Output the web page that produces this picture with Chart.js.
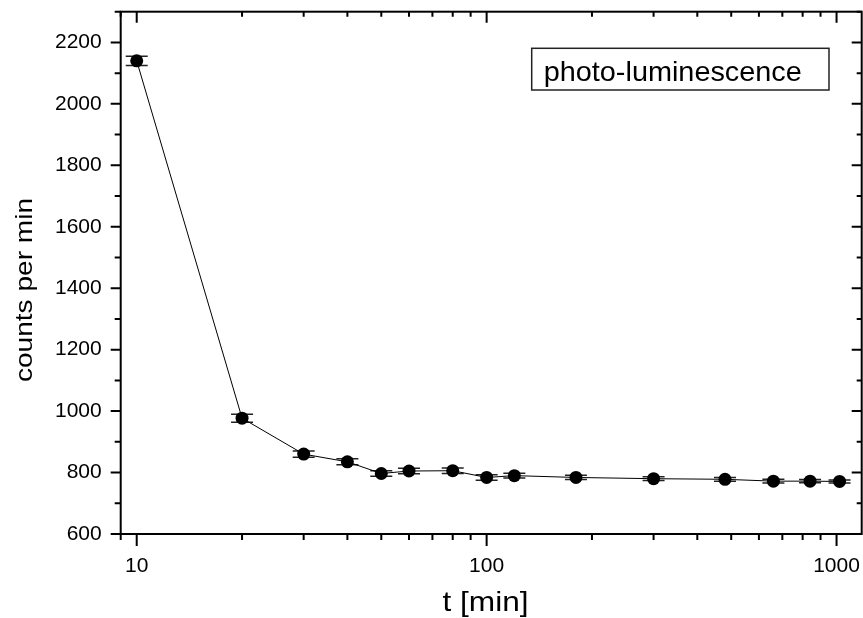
<!DOCTYPE html>
<html>
<head>
<meta charset="utf-8">
<script src="https://cdn.jsdelivr.net/npm/chart.js@4.4.0/dist/chart.umd.min.js"></script>
<style>
  html, body { margin: 0; padding: 0; background: #fff; }
  canvas { display: block; }
</style>
</head>
<body>
<canvas id="plCanvas" width="863" height="618"></canvas>
<script>
const timeMin = [10, 20, 30, 40, 50, 60, 80, 100, 120, 180, 300, 480, 660, 840, 1020];
const counts = [2140, 977, 860, 835, 797, 805, 806, 784, 790, 784, 780, 778, 772, 772, 771];
const countErr = [15, 13, 10, 10, 9, 9, 9, 9, 8, 7, 6, 6, 6, 5, 5];

// axis labelling
const xTickLabels = [10, 100, 1000];
const yTickLabels = [600, 800, 1000, 1200, 1400, 1600, 1800, 2000, 2200];
const xTitle = "t [min]";
const yTitle = "counts per min";
const boxLabel = "photo-luminescence";

const FONT = "'Liberation Sans', Arial, sans-serif";

// the figure's text is a bit wider than plain Arial, so stretch it along the line
const stretchText = (ctx, text, x, y, sx) => {
  ctx.save();
  ctx.translate(x, y);
  ctx.scale(sx, 1);
  ctx.fillText(text, 0, 0);
  ctx.restore();
};

// error bars, drawn under the markers
const errorBars = {
  id: "errorBars",
  beforeDatasetsDraw(chart) {
    const { ctx } = chart;
    const xs = chart.scales.x;
    const ys = chart.scales.y;
    ctx.save();
    ctx.strokeStyle = "#222";
    ctx.lineWidth = 1.5;
    timeMin.forEach((t, i) => {
      const px = xs.getPixelForValue(t);
      const yHi = ys.getPixelForValue(counts[i] + countErr[i]);
      const yLo = ys.getPixelForValue(counts[i] - countErr[i]);
      ctx.beginPath();
      ctx.moveTo(px, yHi); ctx.lineTo(px, yLo);
      ctx.moveTo(px - 11, yHi); ctx.lineTo(px + 11, yHi);
      ctx.moveTo(px - 11, yLo); ctx.lineTo(px + 11, yLo);
      ctx.stroke();
    });
    ctx.restore();
  },
};

// frame box, tick marks on all four sides, titles and the label box
const frame = {
  id: "frame",
  afterDraw(chart) {
    const { ctx, chartArea } = chart;
    const { left, right, top, bottom } = chartArea;
    const xs = chart.scales.x;
    const ys = chart.scales.y;
    ctx.save();
    ctx.strokeStyle = "#000";
    ctx.lineWidth = 2;
    ctx.strokeRect(left, top, right - left, bottom - top);

    ctx.beginPath();
    ys.ticks.forEach(({ value }) => {
      if (value % 100 !== 0) return;
      const py = ys.getPixelForValue(value);
      const major = value % 200 === 0;
      ctx.moveTo(left - (major ? 10 : 6), py); ctx.lineTo(left, py);
      ctx.moveTo(right - (major ? 10 : 5), py); ctx.lineTo(right, py);
    });
    xs.ticks.forEach(({ value }) => {
      const mag = Math.pow(10, Math.floor(Math.log10(value)));
      if (Math.abs(value / mag - Math.round(value / mag)) > 1e-9) return;
      const px = xs.getPixelForValue(value);
      const major = Math.round(value / mag) === 1;
      ctx.moveTo(px, bottom); ctx.lineTo(px, bottom + (major ? 12 : 6));
      ctx.moveTo(px, top); ctx.lineTo(px, top + (major ? 11 : 5));
    });
    ctx.stroke();

    // axis titles
    ctx.fillStyle = "#000";
    ctx.textAlign = "center";
    ctx.textBaseline = "alphabetic";
    ctx.font = `28px ${FONT}`;
    stretchText(ctx, xTitle, 485.5, 611, 1.13);
    ctx.save();
    ctx.translate(32, 290);
    ctx.rotate(-Math.PI / 2);
    ctx.font = `24px ${FONT}`;
    stretchText(ctx, yTitle, 0, 0, 1.17);
    ctx.restore();

    // label box in the upper right
    ctx.lineWidth = 1.5;
    ctx.strokeStyle = "#222";
    ctx.strokeRect(right - 330, top + 36.6, 297.3, 41.7);
    ctx.textAlign = "left";
    ctx.font = `28px ${FONT}`;
    stretchText(ctx, boxLabel, right - 318, top + 69.5, 1.03);
    ctx.restore();
  },
};

// no extra room for half-labels at the axis ends
const noEndPadding = (scale) => {
  scale.paddingLeft = 0;
  scale.paddingRight = 0;
  scale.paddingTop = 0;
  scale.paddingBottom = 0;
};

const chartData = {
  datasets: [{
    label: "photo-luminescence",
    data: timeMin.map((t, i) => ({ x: t, y: counts[i] })),
    borderColor: "#000",
    borderWidth: 1,
    backgroundColor: "#000",
    pointRadius: 6.5,
    pointBorderWidth: 0,
    pointBackgroundColor: "#000",
    tension: 0,
    fill: false,
  }],
};

const chartConfig = {
  type: "line",
  data: chartData,
  options: {
    responsive: false,
    animation: false,
    layout: { autoPadding: false, padding: { top: 11.7, right: 1.3, left: 0, bottom: 0 } },
    plugins: { legend: { display: false }, tooltip: { enabled: false } },
    scales: {
      x: {
        type: "logarithmic",
        min: 9,
        max: 1180,
        grid: { display: false, drawTicks: false },
        border: { display: false },
        ticks: {
          autoSkip: false,
          maxRotation: 0,
          padding: 20,
          color: "#000",
          font: { family: FONT, size: 21 },
          callback: (v) => (xTickLabels.includes(v) ? String(v) : ""),
        },
        afterFit: (scale) => { scale.height = 84; noEndPadding(scale); },
      },
      y: {
        min: 600,
        max: 2300,
        grid: { display: false, drawTicks: false },
        border: { display: false },
        ticks: {
          stepSize: 100,
          autoSkip: false,
          padding: 19,
          color: "#000",
          font: { family: FONT, size: 21 },
          callback: (v) => (yTickLabels.includes(v) ? String(v) : ""),
        },
        afterFit: (scale) => { scale.width = 120.7; noEndPadding(scale); },
      },
    },
  },
  plugins: [errorBars, frame],
};

new Chart(document.getElementById("plCanvas"), chartConfig);
</script>
</body>
</html>
